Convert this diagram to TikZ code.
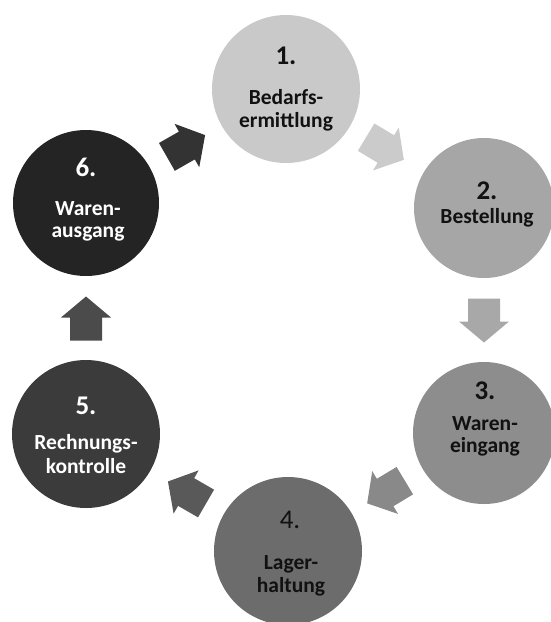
\documentclass[tikz,border=0pt]{standalone}
\usepackage{fontspec}
\setmainfont{Carlito}
\usetikzlibrary{calc}
\definecolor{colA}{HTML}{C9C9C9}
\definecolor{colB}{HTML}{A6A6A6}
\definecolor{colC}{HTML}{8D8D8D}
\definecolor{colD}{HTML}{6C6C6C}
\definecolor{colE}{HTML}{3B3B3B}
\definecolor{colF}{HTML}{242424}
\definecolor{arA}{HTML}{CBCBCB}
\definecolor{arB}{HTML}{A8A8A8}
\definecolor{arC}{HTML}{898989}
\definecolor{arD}{HTML}{595959}
\definecolor{arE}{HTML}{4B4B4B}
\definecolor{arF}{HTML}{333333}
\definecolor{txtdark}{HTML}{111111}
\tikzset{
  stage/.style={circle, inner sep=0pt, draw=none},
  numtxt/.style={font=\fontsize{27}{29}\selectfont\bfseries, anchor=base, inner sep=0pt},
  numreg/.style={font=\fontsize{27}{29}\selectfont, anchor=base, inner sep=0pt},
  labtxt/.style={font=\fontsize{21.5}{23}\selectfont\bfseries, anchor=base, inner sep=0pt},
}
\begin{document}
\begin{tikzpicture}[x=1pt,y=-1pt]
\useasboundingbox (0,0) rectangle (551,622);
% circles
\node[stage, fill=colA, minimum size=148pt] (c1) at (286,89) {};
\node[stage, fill=colB, minimum size=140pt] (c2) at (484,208) {};
\node[stage, fill=colC, minimum size=142pt] (c3) at (484,433) {};
\node[stage, fill=colD, minimum size=148pt] (c4) at (288,551) {};
\node[stage, fill=colE, minimum size=148pt] (c5) at (86,434) {};
\node[stage, fill=colF, minimum size=146pt] (c6) at (86,203) {};
% texts
\node[numtxt, text=txtdark] (n1) at (286,64) {1.};
\node[labtxt, text=txtdark] (a1) at (286,104) {Bedarfs-};
\node[labtxt, text=txtdark] (b1) at (286,127) {ermittlung};
\node[numtxt, text=txtdark] (n2) at (487,199) {2.};
\node[labtxt, text=txtdark] (a2) at (487,223) {Bestellung};
\node[numtxt, text=txtdark] (n3) at (485,399) {3.};
\node[labtxt, text=txtdark] (a3) at (485,430) {Waren-};
\node[labtxt, text=txtdark] (b3) at (485,452) {eingang};
\node[numreg, text=txtdark] (n4) at (290,528) {4.};
\node[labtxt, text=txtdark] (a4) at (291,569) {Lager-};
\node[labtxt, text=txtdark] (b4) at (291,592) {haltung};
\node[numtxt, text=white] (n5) at (86,414) {5.};
\node[labtxt, text=white] (a5) at (86,449) {Rechnungs-};
\node[labtxt, text=white] (b5) at (86,473) {kontrolle};
\node[numtxt, text=white] (n6) at (86,176) {6.};
\node[labtxt, text=white] (a6) at (88,215) {Waren-};
\node[labtxt, text=white] (b6) at (88,237) {ausgang};
% block arrows
\foreach \a/\b/\col in {c1/c2/arA, c2/c3/arB, c3/c4/arC, c4/c5/arD, c5/c6/arE, c6/c1/arF}{
  \pgfmathanglebetweenpoints{\pgfpointanchor{\a}{center}}{\pgfpointanchor{\b}{center}}
  \let\ang\pgfmathresult
  \begin{scope}[shift={($(\a)!0.5!(\b)$)}, rotate=\ang]
    \fill[\col] (-22pt,-16pt) -- (1pt,-16pt) -- (1pt,-25pt) -- (22pt,0pt)
      -- (1pt,25pt) -- (1pt,16pt) -- (-22pt,16pt) -- cycle;
  \end{scope}
}
\end{tikzpicture}
\end{document}
